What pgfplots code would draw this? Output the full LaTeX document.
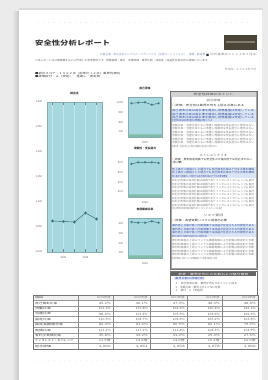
\documentclass[border=0pt]{standalone}
\usepackage{fontspec}
\setmainfont{Noto Sans CJK JP}
\usepackage{graphicx}
\usepackage{pgfplots}
\pgfplotsset{compat=1.18}
\definecolor{plotbg}{HTML}{A7D8DF}
\definecolor{ptc}{HTML}{2D6C76}
\definecolor{band}{HTML}{7FBBA8}
\definecolor{blueblk}{HTML}{DCE5F5}
\definecolor{bluetxt}{HTML}{2E4E9C}
\definecolor{darkbox}{HTML}{4A4536}
\newcommand{\tl}[6][2.2]{\node[anchor=west,inner sep=0pt,text=#5] at (#2,#3) {\resizebox{#4bp}{#1bp}{#6}};}
\newcommand{\tlc}[6][2.2]{\node[anchor=center,inner sep=0pt,text=#5] at (#2,#3) {\resizebox{#4bp}{#1bp}{#6}};}
\newcommand{\tle}[6][2.2]{\node[anchor=east,inner sep=0pt,text=#5] at (#2,#3) {\resizebox{#4bp}{#1bp}{#6}};}
\pgfplotsset{
  chartbase/.style={
    anchor=south west, scale only axis,
    xmin=0.5, xmax=5.5,
    axis background/.style={fill=plotbg},
    axis line style={draw=plotbg!80!black, line width=0.25pt},
    major tick length=0pt,
    tick label style={font=\fontsize{2.6}{3}\selectfont, text=black!65},
    yticklabel style={xshift=-1.5bp},
    xticklabel style={yshift=-0.8bp},
    /pgf/number format/assume math mode=true,
    /pgf/number format/1000 sep={,},
    title style={font=\fontsize{2.8}{3}\selectfont\bfseries, text=black!80, at={(0.5,1)}, anchor=south, yshift=0.6bp, inner sep=0pt},
  },
  ptline/.style={color=ptc, line width=0.45pt, mark=*, mark options={fill=ptc, draw=ptc!70!white, line width=0.2pt}},
}
\begin{document}
\begin{tikzpicture}
\useasboundingbox (0,0) rectangle (268bp,380bp);
\fill[black!8] (0,0) rectangle (268bp,380bp);
\begin{scope}[x=1bp,y=-1bp,shift={(0bp,380bp)}]
  % page shadow and page
  \shade[left color=black!8, right color=black!22] (12,12) rectangle (19,380);
  \fill[black!14] (19,8.5) rectangle (263,10);
  \fill[white] (19,10) rectangle (262,380);
  % header
  \tl[1.6]{35}{24}{215}{black!15}{・・・・・・・・・・・・・・・・・・・・・・・・・・・・・・・・・・・・・・・・}
  \tl[5.6]{35}{43}{75}{black!78}{\bfseries 安全性分析レポート}
  \fill[darkbox] (224,35) rectangle (257,50);
  \fill[darkbox!70!white] (226,41.5) rectangle (255,43.5);
  \tl{100}{55}{105}{bluetxt!60!white}{対象企業：株式会社サンプルホールディングス（証券コード１２３４）　業種：製造業}
  \tl{206}{55}{3}{black!80}{■}
  \tl{210}{55}{46}{black!45}{分析基準日２０２４年３月末}
  \tl{35}{60.5}{175}{black!60}{※本レポートは公開情報をもとに作成した参考資料です。財務指標・格付・市場評価・業界比較・成長性・収益性を総合的に評価しています。}
  \tl{225}{70}{31}{black!45}{作成日：２０２４年５月}
  \tl{35}{73.5}{85}{black!78}{■総合スコア：１０６２点（前年比＋２点）業界内順位}
  \tl{35}{77}{65}{black!78}{■評価区分：Ａ（安定）　見通し：安定的}
  % right text box
  \draw[black!55, line width=0.6pt] (170,91) rectangle (257,269);
  \draw[black!35, line width=0.25pt] (171,92) rectangle (256,268);
  \fill[black!18] (171,92) rectangle (256,97);
  \tlc{213.5}{94.5}{40}{black!70}{安全性評価のポイント}
  \tlc{213.5}{101}{14}{black!60}{総合評価}
  \tl{172}{106}{72}{black!80}{○評価：安全性は業界平均を上回る水準にある}
  \fill[blueblk] (171.5,109) rectangle (255.5,122.5);
  \foreach \yy/\ww in {111/82,114.5/82,118/82,121/40}{\tl{172}{\yy}{\ww}{bluetxt}{自己資本比率は高水準を維持し財務基盤は安定している}}
  \foreach \yy/\ww in {125.5/82,129/82,132.5/82,136/82,139.5/82,143/82,146.5/45}{\tl{172}{\yy}{\ww}{black!50}{流動比率・当座比率ともに改善し短期的な支払能力に懸念はない}}
  \tlc{213.5}{155}{28}{black!60}{ストレスシナリオ}
  \tl{172}{159.5}{80}{black!80}{○評価：景気後退局面でも安全性の大幅な低下は見込まれない}
  \tl{172}{163}{10}{black!80}{水準}
  \fill[blueblk] (171.5,167) rectangle (255.5,178);
  \foreach \yy/\ww in {169.5/82,173/82,176.5/55}{\tl{172}{\yy}{\ww}{bluetxt}{売上高が二割減少した場合でも自己資本比率は十分な水準を確保}}
  \foreach \yy/\ww in {181/82,184.5/82,188/82,191.5/82,195/82,198.5/82,202/82,205.5/82,209/50}{\tl{172}{\yy}{\ww}{black!50}{有利子負債の返済計画は順調でありインタレストカバレッジも良好}}
  \tlc{213.5}{216}{20}{black!60}{リスク要因}
  \tl{172}{220.5}{55}{black!80}{○評価：為替変動リスクに留意が必要}
  \fill[blueblk] (171.5,224) rectangle (255.5,237.5);
  \foreach \yy/\ww in {226/82,229.5/82,233/82,236.5/35}{\tl{172}{\yy}{\ww}{bluetxt}{海外売上比率が高く円高局面では収益が圧迫される可能性がある}}
  \foreach \yy/\ww in {241/82,244.5/82,248/82,251.5/82,255/82,258.5/45}{\tl{172}{\yy}{\ww}{black!50}{原材料価格の上昇についても価格転嫁により影響は限定的と判断}}
  % second box
  \draw[black!55, line width=0.6pt] (170,271) rectangle (257,295);
  \fill[black!60] (171,272) rectangle (256,276.5);
  \tlc{213.5}{274.3}{70}{white}{参考：業界平均との比較および格付推移}
  \fill[blueblk!80!blue!30] (174,277.5) rectangle (205,280.5);
  \tl{175}{279}{29}{bluetxt}{業界比較の詳細分析}
  \tl{175}{284}{62}{black!60}{１．自己資本比率：業界平均を８ポイント上回る}
  \tl{175}{287.5}{45}{black!60}{２．流動比率：業界上位２０％に位置}
  \tl{175}{291}{30}{black!60}{３．格付：Ａ（安定的）}
  % table
  \def\rh{5.4}
  \fill[black!6] (33,295) rectangle (258,300.4);
  \foreach \k in {1,...,9}{\draw[black!40, line width=0.25pt] (33,295+\k*\rh) -- (258,295+\k*\rh);}
  \foreach \xx in {78,113,150,187,222}{\draw[black!45, line width=0.3pt] (\xx,295) -- (\xx,349);}
  \draw[black!55, line width=0.45pt] (33,295) rectangle (258,349);
  \foreach \k/\lab/\w in {0/項目/8,1/自己資本比率/22,2/流動比率/16,3/当座比率/16,4/固定比率/16,5/固定長期適合率/28,6/負債比率/16,7/有利子負債比率/26,8/インタレスト・カバレッジ/38,9/総合評価/16}{
    \tl{35}{297.8+\k*\rh}{\w}{black!75}{\lab}}
  \foreach \xx/\hd in {113/2019年度,150/2020年度,187/2021年度,222/2022年度,258/2023年度}{\tle{\xx-2}{297.8}{14}{black!50}{\hd}}
  \foreach \k/\a/\b/\c/\d/\e in {1/45.2\%/46.1\%/47.3\%/48.0\%/48.8\%,2/152.3\%/155.8\%/158.2\%/160.4\%/162.1\%,3/98.6\%/101.2\%/103.5\%/104.9\%/106.3\%,4/110.5\%/108.7\%/106.9\%/105.2\%/103.8\%,5/82.4\%/81.6\%/80.9\%/80.1\%/79.5\%,6/121.2\%/117.1\%/111.4\%/108.3\%/104.9\%,7/35.8\%/33.2\%/31.0\%/29.4\%/27.6\%,8/12.5倍/13.8倍/14.6倍/15.2倍/16.0倍,9/{1,060}/{1,061}/{1,058}/{1,078}/{1,066}}{
    \tle{111}{297.8+\k*\rh}{12}{black!60}{\a}
    \tle{148}{297.8+\k*\rh}{12}{black!60}{\b}
    \tle{185}{297.8+\k*\rh}{12}{black!60}{\c}
    \tle{220}{297.8+\k*\rh}{12}{black!60}{\d}
    \tle{256}{297.8+\k*\rh}{12}{black!60}{\e}}
  \tl[1.6]{35}{362}{215}{black!12}{・・・・・・・・・・・・・・・・・・・・・・・・・・・・・・・・・・・・・・・・}
\end{scope}

% big chart
\begin{axis}[chartbase, at={(47bp,128bp)}, width=55bp, height=150bp,
  ymin=1000, ymax=1300, ytick={1000,1050,...,1300},
  xtick={2,4}, xticklabels={2021,2023},
  minor xtick={1,...,5}, xminorgrids, minor grid style={white, opacity=0.35, line width=0.4pt},
  title={総合点}]
  \addplot[ptline, mark size=1.4bp] coordinates {(1,1062) (2,1061) (3,1060) (4,1078) (5,1066)};
\end{axis}

% small chart 1
\begin{axis}[chartbase, at={(128bp,243bp)}, width=34bp, height=40bp,
  ymin=648, ymax=1062, ytick={700,800,900,1000},
  xtick={3}, xticklabels={2023}, title={自己資本}]
  \addplot[draw=none, fill=band] coordinates {(0.5,648) (5.5,648) (5.5,675) (0.5,675) (0.5,648)};
  \addplot[ptline, mark size=1.1bp] coordinates {(1,997) (2,1003) (3,1007) (4,982) (5,997)};
\end{axis}

% small chart 2
\begin{axis}[chartbase, at={(128bp,183bp)}, width=34bp, height=40bp,
  ymin=14.8, ymax=56.2, ytick={20,30,40,50},
  yticklabel={\pgfmathprintnumber[fixed,fixed zerofill,precision=1]{\tick}},
  xtick={3}, xticklabels={2023}, title={流動性・支払能力}]
  \addplot[draw=none, fill=band] coordinates {(0.5,14.8) (5.5,14.8) (5.5,17.5) (0.5,17.5) (0.5,14.8)};
  \addplot[ptline, mark size=1.1bp] coordinates {(1,49.0) (2,50.7) (3,50.7) (4,50.7) (5,50.0)};
\end{axis}

% small chart 3
\begin{axis}[chartbase, at={(128bp,122bp)}, width=34bp, height=40bp,
  ymin=48, ymax=462, ytick={100,200,300,400},
  xtick={3}, xticklabels={2023}, title={負債構成比率}]
  \addplot[draw=none, fill=band] coordinates {(0.5,48) (5.5,48) (5.5,75) (0.5,75) (0.5,48)};
  \addplot[ptline, mark size=1.1bp] coordinates {(1,421) (2,413) (3,413) (4,428) (5,413)};
\end{axis}
\end{tikzpicture}
\end{document}
